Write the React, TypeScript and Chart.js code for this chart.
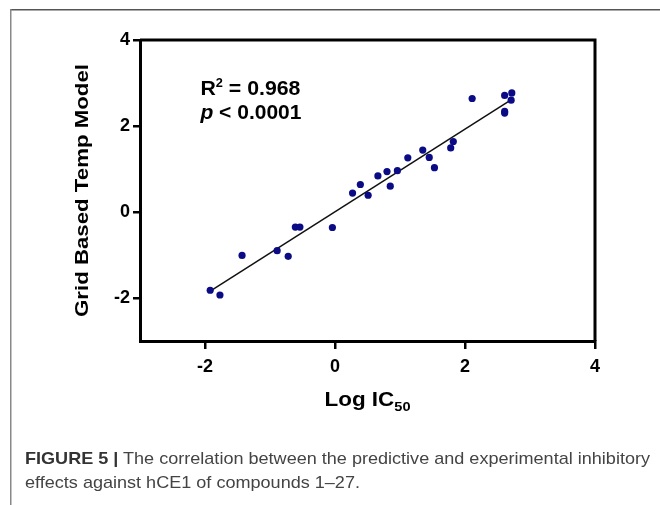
import React, { useEffect, useLayoutEffect, useRef, useState } from "react";
import { Chart, registerables } from "chart.js";

Chart.register(...registerables);

// ---- data ----
const logIC50 = [
  -1.92, -1.77, -1.43, -0.89, -0.72, -0.61, -0.54, -0.04, 0.27, 0.39, 0.51, 0.66, 0.8, 0.85,
  0.96, 1.12, 1.35, 1.45, 1.53, 1.78, 1.82, 2.11, 2.61, 2.72, 2.71, 2.61, 2.61,
];
const gridModel = [
  -1.82, -1.93, -1.01, -0.9, -1.03, -0.35, -0.35, -0.36, 0.44, 0.64, 0.39, 0.84, 0.94, 0.6,
  0.96, 1.26, 1.44, 1.27, 1.03, 1.49, 1.64, 2.64, 2.71, 2.77, 2.6, 2.34, 2.3,
];
const fitX = [-1.92, 2.72];
const fitY = [-1.84, 2.62];
const xTicks = [-2, 0, 2, 4];
const yTicks = [-2, 0, 2, 4];
const xRange = [-3, 4];
const yRange = [-3, 4];
const statLines = ["0.968", "0.0001"];
const annoAnchor = { x: -2.07, y1: 2.72, y2: 2.17 };
const captionBold = "FIGURE 5 |";
const captionLine1 = " The correlation between the predictive and experimental inhibitory";
const captionLine2 = "effects against hCE1 of compounds 1\u201327.";

const FONT = "'Liberation Sans Narrow', 'Arial Narrow', 'Liberation Sans', Arial, sans-serif";

function drawFitted(ctx: CanvasRenderingContext2D, parts: { t: string; font: string; dy: number }[], x: number, y: number, width: number) {
  let total = 0;
  const ws = parts.map((p) => {
    ctx.font = p.font;
    const w = ctx.measureText(p.t).width;
    total += w;
    return w;
  });
  const s = width / total;
  ctx.save();
  ctx.translate(x, y);
  ctx.scale(s, 1);
  let cx = 0;
  parts.forEach((p, i) => {
    ctx.font = p.font;
    ctx.fillText(p.t, cx, p.dy);
    cx += ws[i];
  });
  ctx.restore();
}

const decorPlugin = {
  id: "decor",
  beforeDraw(chart: any) {
    const ctx = chart.ctx as CanvasRenderingContext2D;
    ctx.save();
    ctx.fillStyle = "#fff";
    ctx.fillRect(0, 0, chart.width, chart.height);
    ctx.strokeStyle = "#555";
    ctx.lineWidth = 1.5;
    ctx.beginPath();
    ctx.moveTo(10, 9.75);
    ctx.lineTo(chart.width, 9.75);
    ctx.stroke();
    ctx.strokeStyle = "#888";
    ctx.beginPath();
    ctx.moveTo(10.75, 9);
    ctx.lineTo(10.75, chart.height);
    ctx.stroke();
    ctx.restore();
  },
  afterDraw(chart: any) {
    const ctx = chart.ctx as CanvasRenderingContext2D;
    const a = chart.chartArea;
    const xs = chart.scales.x;
    const ys = chart.scales.y;
    ctx.save();
    // top and right frame of the plot box
    ctx.strokeStyle = "#000";
    ctx.lineWidth = 3;
    ctx.beginPath();
    ctx.moveTo(a.left, a.top);
    ctx.lineTo(a.right, a.top);
    ctx.lineTo(a.right, a.bottom);
    ctx.stroke();

    ctx.fillStyle = "#000";
    ctx.textBaseline = "alphabetic";
    ctx.textAlign = "left";
    // y title
    ctx.save();
    ctx.translate(88, (a.top + a.bottom) / 2);
    ctx.rotate(-Math.PI / 2);
    ctx.font = `bold 19px ${FONT}`;
    const yt = "Grid Based Temp Model";
    const yw = ctx.measureText(yt).width;
    drawFitted(ctx, [{ t: yt, font: `bold 19px ${FONT}`, dy: 0 }], -253 / 2, 0, 253);
    ctx.restore();
    // x title
    const cx = (a.left + a.right) / 2;
    drawFitted(
      ctx,
      [
        { t: "Log IC", font: `bold 20px ${FONT}`, dy: 0 },
        { t: "50", font: `bold 13px ${FONT}`, dy: 5 },
      ],
      cx - 43,
      406,
      86
    );
    // stats annotation
    const ax = xs.getPixelForValue(annoAnchor.x);
    drawFitted(
      ctx,
      [
        { t: "R", font: `bold 20px ${FONT}`, dy: 0 },
        { t: "2", font: `bold 12px ${FONT}`, dy: -8 },
        { t: " = " + statLines[0], font: `bold 20px ${FONT}`, dy: 0 },
      ],
      ax,
      ys.getPixelForValue(annoAnchor.y1),
      100
    );
    drawFitted(
      ctx,
      [
        { t: "p", font: `italic bold 20px ${FONT}`, dy: 0 },
        { t: " < " + statLines[1], font: `bold 20px ${FONT}`, dy: 0 },
      ],
      ax,
      ys.getPixelForValue(annoAnchor.y2),
      101
    );
    ctx.restore();
  },
};

export default function App() {
  const canvasRef = useRef<HTMLCanvasElement>(null);
  const capRef = useRef<HTMLDivElement>(null);
  const [capScale, setCapScale] = useState(1);

  useLayoutEffect(() => {
    if (capRef.current) {
      const w = capRef.current.getBoundingClientRect().width;
      if (w > 0) setCapScale(625 / w);
    }
  }, []);

  useEffect(() => {
    if (!canvasRef.current) return;
    const tickFont = { family: FONT, size: 18, weight: "bold" as const };
    const chart = new Chart(canvasRef.current, {
      type: "scatter",
      data: {
        datasets: [
          {
            type: "scatter",
            data: logIC50.map((x, i) => ({ x, y: gridModel[i] })),
            backgroundColor: "#0b0b86",
            borderWidth: 0,
            pointRadius: 3.6,
            order: 0,
          },
          {
            type: "line",
            data: fitX.map((x, i) => ({ x, y: fitY[i] })),
            borderColor: "#111",
            borderWidth: 1.5,
            pointRadius: 0,
            showLine: true,
            fill: false,
            order: 1,
          } as any,
        ],
      },
      options: {
        responsive: false,
        animation: false,
        layout: { padding: { top: 40, right: 65, left: 0, bottom: 0 } },
        plugins: { legend: { display: false }, tooltip: { enabled: false } },
        scales: {
          x: {
            type: "linear",
            min: xRange[0],
            max: xRange[1],
            afterBuildTicks: (s: any) => {
              s.ticks = xTicks.map((v) => ({ value: v }));
            },
            afterFit: (s: any) => {
              s.height = 164;
            },
            ticks: { color: "#000", font: tickFont, padding: 7 },
            grid: { drawOnChartArea: false, drawTicks: true, tickLength: 8, color: "#000", lineWidth: 2.5 },
            border: { display: true, color: "#000", width: 3 },
          },
          y: {
            type: "linear",
            min: yRange[0],
            max: yRange[1],
            afterBuildTicks: (s: any) => {
              s.ticks = yTicks.map((v) => ({ value: v }));
            },
            afterFit: (s: any) => {
              s.width = 140;
            },
            ticks: { color: "#000", font: tickFont, padding: 3 },
            grid: { drawOnChartArea: false, drawTicks: true, tickLength: 7, color: "#000", lineWidth: 2.5 },
            border: { display: true, color: "#000", width: 3 },
          },
        },
      },
      plugins: [decorPlugin],
    });
    return () => chart.destroy();
  }, []);

  return (
    <div style={{ position: "absolute", left: 0, top: 0, width: 660, height: 505, background: "#fff", overflow: "hidden" }}>
      <canvas ref={canvasRef} width={660} height={505} style={{ position: "absolute", left: 0, top: 0 }} />
      <div
        style={{
          position: "absolute",
          left: 25,
          top: 447,
          fontFamily: FONT,
          fontSize: 17,
          lineHeight: "24px",
          color: "#444",
          whiteSpace: "nowrap",
          transform: `scaleX(${capScale})`,
          transformOrigin: "left top",
        }}
      >
        <div ref={capRef} style={{ display: "inline-block" }}>
          <span style={{ fontWeight: "bold", color: "#333" }}>{captionBold}</span>
          <span>{captionLine1}</span>
        </div>
        <div>{captionLine2}</div>
      </div>
    </div>
  );
}
